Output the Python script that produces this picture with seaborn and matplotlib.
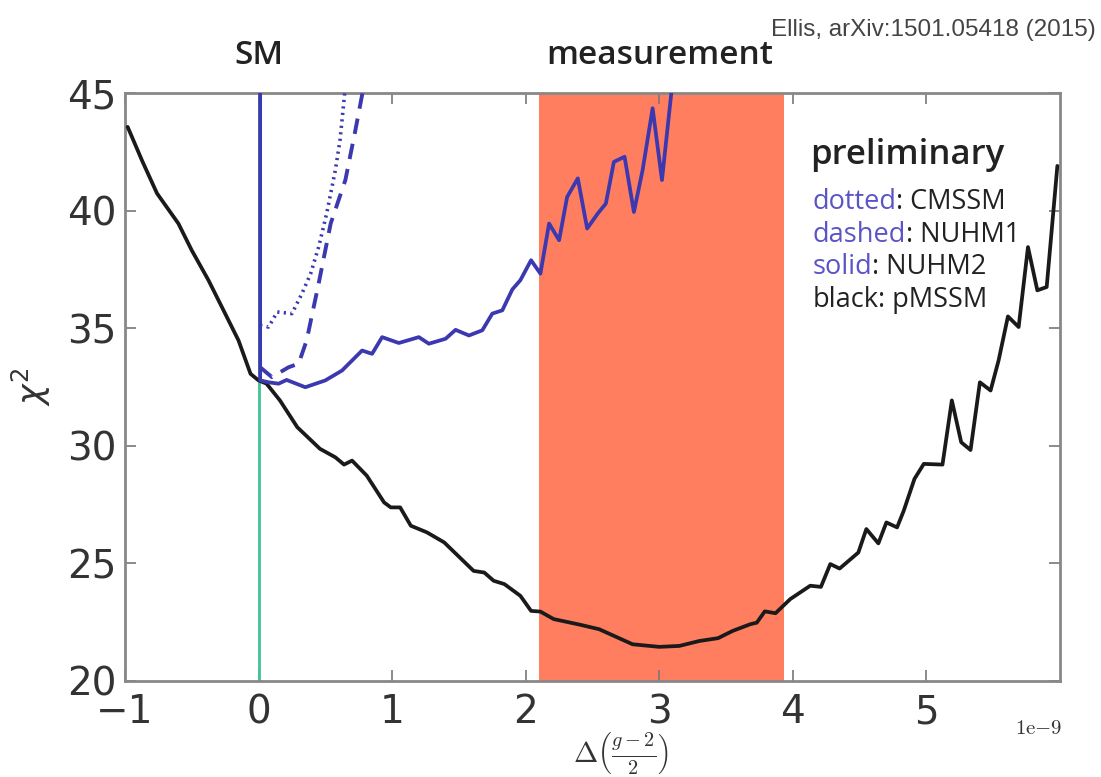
import numpy as np
import pandas as pd
import seaborn as sns
import matplotlib
matplotlib.use("Agg")
import matplotlib.pyplot as plt

# ---- data, x in units of 1e-9 ----
pmssm_x = [-0.98, -0.87, -0.76, -0.60, -0.50, -0.375, -0.25, -0.15, -0.06, 0.0,
           0.06, 0.16, 0.29, 0.46, 0.575, 0.64, 0.70, 0.81, 0.94, 0.99, 1.06, 1.14,
           1.26, 1.39, 1.61, 1.69, 1.76, 1.84, 1.96, 2.04, 2.11, 2.21, 2.40, 2.55,
           2.80, 3.00, 3.15, 3.30, 3.44, 3.55, 3.68, 3.73, 3.79, 3.87, 3.98, 4.13,
           4.21, 4.28, 4.35, 4.49, 4.55, 4.64, 4.70, 4.78, 4.83, 4.91, 4.98, 5.12,
           5.19, 5.26, 5.33, 5.40, 5.48, 5.54, 5.61, 5.69, 5.76, 5.83, 5.90, 5.98]
pmssm_y = [43.56, 42.1, 40.73, 39.45, 38.31, 37.04, 35.62, 34.48, 33.06, 32.78,
           32.64, 31.93, 30.79, 29.87, 29.51, 29.2, 29.37, 28.73, 27.59, 27.38, 27.38, 26.6,
           26.32, 25.89, 24.68, 24.61, 24.26, 24.12, 23.62, 22.98, 22.95, 22.63, 22.4, 22.2,
           21.56, 21.45, 21.49, 21.7, 21.82, 22.13, 22.41, 22.48, 22.96, 22.88, 23.48, 24.05,
           24.0, 24.97, 24.78, 25.46, 26.46, 25.85, 26.74, 26.53, 27.24, 28.59, 29.23, 29.2,
           31.93, 30.15, 29.82, 32.7, 32.35, 33.63, 35.5, 35.05, 38.45, 36.61, 36.75, 41.9]

nuhm2_x = [0.012, 0.012, 0.075, 0.15, 0.21, 0.35, 0.50, 0.625, 0.775, 0.85, 0.925,
           1.05, 1.20, 1.275, 1.40, 1.475, 1.575, 1.675, 1.75, 1.825, 1.90, 1.96, 2.04,
           2.11, 2.175, 2.25, 2.31, 2.39, 2.46, 2.54, 2.60, 2.66, 2.74, 2.81, 2.875,
           2.95, 3.02, 3.09, 3.15]
nuhm2_y = [50.0, 32.78, 32.7, 32.64, 32.8, 32.49, 32.78, 33.2, 34.05, 33.91, 34.62,
           34.37, 34.62, 34.34, 34.55, 34.93, 34.69, 34.91, 35.62, 35.76, 36.65, 37.04, 37.89,
           37.32, 39.45, 38.74, 40.58, 41.37, 39.24, 39.88, 40.3, 42.07, 42.29, 39.94, 41.72,
           44.35, 41.3, 45.0, 47.5]

cmssm_x = [0.012, 0.075, 0.14, 0.25, 0.325, 0.39, 0.45, 0.51, 0.575, 0.61, 0.645, 0.66]
cmssm_y = [35.12, 35.05, 35.69, 35.62, 36.47, 37.32, 38.45, 39.88, 41.72, 43.0, 45.0, 46.0]

nuhm1_x = [0.012, 0.10, 0.225, 0.30, 0.36, 0.45, 0.54, 0.65, 0.725, 0.775, 0.80]
nuhm1_y = [33.34, 32.92, 33.34, 33.49, 34.48, 36.9, 39.45, 41.3, 43.42, 44.91, 46.0]

band = [2.1, 3.93]
x_ticks = [-1, 0, 1, 2, 3, 4, 5]
y_ticks = [20, 25, 30, 35, 40, 45]

legend_words = ["dotted", "dashed", "solid", "black"]
legend_names = [": CMSSM", ": NUHM1", ": NUHM2", ": pMSSM"]
legend_word_colors = ["#5a54c8", "#5a54c8", "#5a54c8", "#222222"]

# ---- style ----
sns.set_style("white")
plt.rcParams['font.family'] = ['DejaVu Sans']

BLUE = "#3b38b0"
fig = plt.figure(figsize=(11.01, 7.77), dpi=100)
ax = fig.add_axes([0.1135, 0.1236, 0.8493, 0.7567])

ax.axvspan(band[0], band[1], color="#ff7e60", lw=0, zorder=0)
ax.axvline(0, color="#3fc594", lw=2.0, zorder=1)

sns.lineplot(x=pmssm_x, y=pmssm_y, ax=ax, color="#1a1a1a", lw=2.7,
             sort=False, estimator=None, zorder=3)
sns.lineplot(x=nuhm2_x, y=nuhm2_y, ax=ax, color=BLUE, lw=2.7,
             sort=False, estimator=None, zorder=4)
sns.lineplot(x=cmssm_x, y=cmssm_y, ax=ax, color=BLUE, lw=2.6,
             sort=False, estimator=None, zorder=4, linestyle=(0, (0.6, 1.2)))
sns.lineplot(x=nuhm1_x, y=nuhm1_y, ax=ax, color=BLUE, lw=2.8,
             sort=False, estimator=None, zorder=4, linestyle=(0, (4.0, 2.6)))

ax.set_xlim(-1, 6)
ax.set_ylim(20, 45)
ax.set_xticks(x_ticks)
ax.set_xticklabels([str(v).replace("-", "\u2212") for v in x_ticks])
ax.set_yticks(y_ticks)
ax.tick_params(axis='both', which='major', direction='in', length=8, width=1.2,
               color="#777777", labelsize=28, labelcolor="#333333",
               top=True, right=True, bottom=True, left=True)
ax.tick_params(axis='x', pad=9)
ax.tick_params(axis='y', pad=6)
for s in ax.spines.values():
    s.set_color("#888888")
    s.set_linewidth(2.0)

ax.set_xlabel(r'$\Delta\left(\frac{g-2}{2}\right)$', fontsize=21, color="#333333",
              math_fontfamily='cm')
ax.xaxis.set_label_coords(0.53, -0.083)
ax.set_ylabel(r'$\chi^2$', fontsize=25, color="#333333", labelpad=10)

fig.text(0.965, 0.055, r"$\mathrm{1e{-}9}$", fontsize=15, color="#333333", ha='right',
         math_fontfamily='cm')

fig.text(0.995, 0.962, "Ellis, arXiv:1501.05418 (2015)", fontsize=17.5, color="#444444",
         ha='right', va='center', family='Liberation Sans')

ax.text(0.0, 1.035, "SM", transform=ax.get_xaxis_transform(), ha='center', va='bottom',
        fontsize=24, family='Open Sans', fontweight='semibold', color="#222222")
ax.text(3.0, 1.035, "measurement", transform=ax.get_xaxis_transform(), ha='center',
        va='bottom', fontsize=24, family='Open Sans', fontweight='semibold', color="#222222")

ax.text(0.733, 0.895, "preliminary", transform=ax.transAxes, ha='left', va='center',
        fontsize=25, family='Open Sans', fontweight='semibold', color="#222222")
for i, (w, n, c) in enumerate(zip(legend_words, legend_names, legend_word_colors)):
    t = ax.text(0.735, 0.815 - i * 0.0558, w, transform=ax.transAxes, ha='left',
                va='center', fontsize=19.5, family='Open Sans', color=c)
    ax.annotate(n, xy=(1, 0), xycoords=t, ha='left', va='bottom', fontsize=19.5,
                family='Open Sans', color="#222222")

fig.savefig("out.png", dpi=100)
